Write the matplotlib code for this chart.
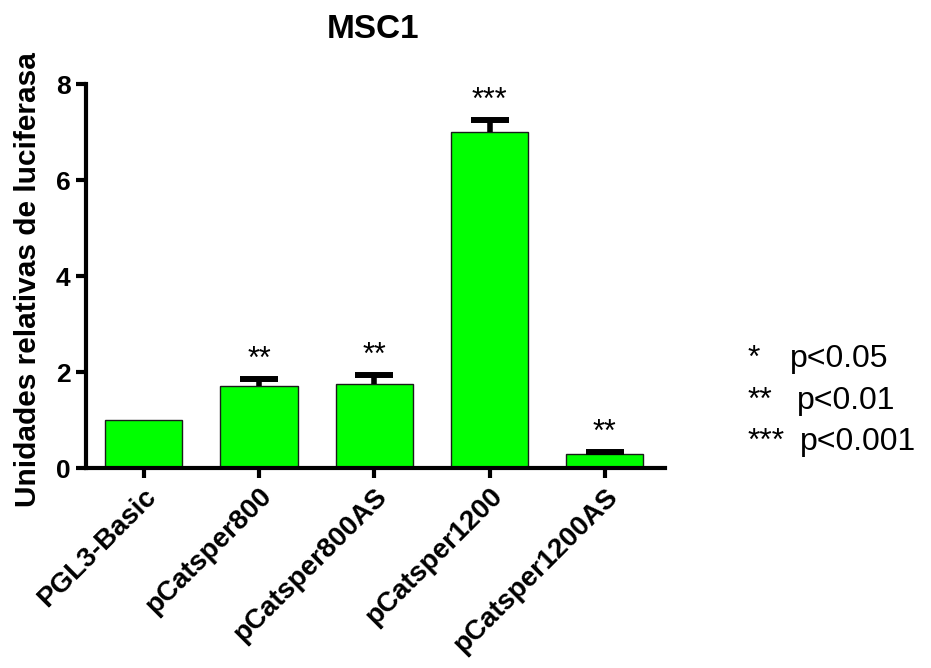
import matplotlib
matplotlib.use("Agg")
import matplotlib.pyplot as plt
import numpy as np

categories = ["PGL3-Basic", "pCatsper800", "pCatsper800AS", "pCatsper1200", "pCatsper1200AS"]
values = [1.0, 1.71, 1.74, 7.0, 0.29]
errors = [0.0, 0.14, 0.19, 0.26, 0.04]
stars = ["", "**", "**", "***", "**"]
legend_stars = ["*", "**", "***"]
legend_p = ["p<0.05", "p<0.01", "p<0.001"]

plt.rcParams['font.family'] = ['Liberation Sans', 'DejaVu Sans']

fig = plt.figure(figsize=(9.31, 6.68), dpi=100)
ax = fig.add_axes([0.0924, 0.2994, 0.6216, 0.5748])

x = np.arange(len(categories))
ax.bar(x, values, width=0.67, color="#00ff00", edgecolor="#1a1a1a", linewidth=1.0, zorder=2)
for xi, v, e in zip(x, values, errors):
    if e > 0:
        cont = ax.errorbar(xi, v, yerr=[[0], [e]], fmt="none", ecolor="black",
                           elinewidth=4.0, capsize=13.7, capthick=4.3, zorder=3)
        caps = cont.lines[1]
        if len(caps) == 2:
            caps[0].set_visible(False)

for xi, v, e, s in zip(x, values, errors, stars):
    if s:
        ax.text(xi, v + e + 0.23, s, ha="center", va="baseline", fontsize=22)

ax.set_xlim(-0.5, 4.52)
ax.set_ylim(0, 8)
ax.set_yticks([0, 2, 4, 6, 8])
ax.set_xticks(x)
ax.set_xticklabels(categories, rotation=45, ha="right", rotation_mode="anchor",
                   fontsize=20, fontweight="bold")
for lab in ax.get_yticklabels():
    lab.set_fontsize(19)
    lab.set_fontweight("bold")

for side in ["top", "right"]:
    ax.spines[side].set_visible(False)
for side in ["left", "bottom"]:
    ax.spines[side].set_linewidth(3.0)
ax.tick_params(axis="both", width=3.0, length=7, direction="out", pad=4)

ax.set_ylabel("Unidades relativas de luciferasa", fontsize=21.5, fontweight="bold")
ax.yaxis.set_label_coords(-0.076, 0.49)

fig.text(0.4006, 0.9431, "MSC1", fontsize=24, fontweight="bold", ha="center", va="baseline")

ys = [0.4506, 0.3877, 0.3263]
px = [0.8485, 0.856, 0.859]
for yy, s, p, xx in zip(ys, legend_stars, legend_p, px):
    fig.text(0.8034, yy, s, fontsize=23, ha="left", va="baseline")
    fig.text(xx, yy, p, fontsize=23, ha="left", va="baseline")

fig.savefig("out.png", dpi=100)
